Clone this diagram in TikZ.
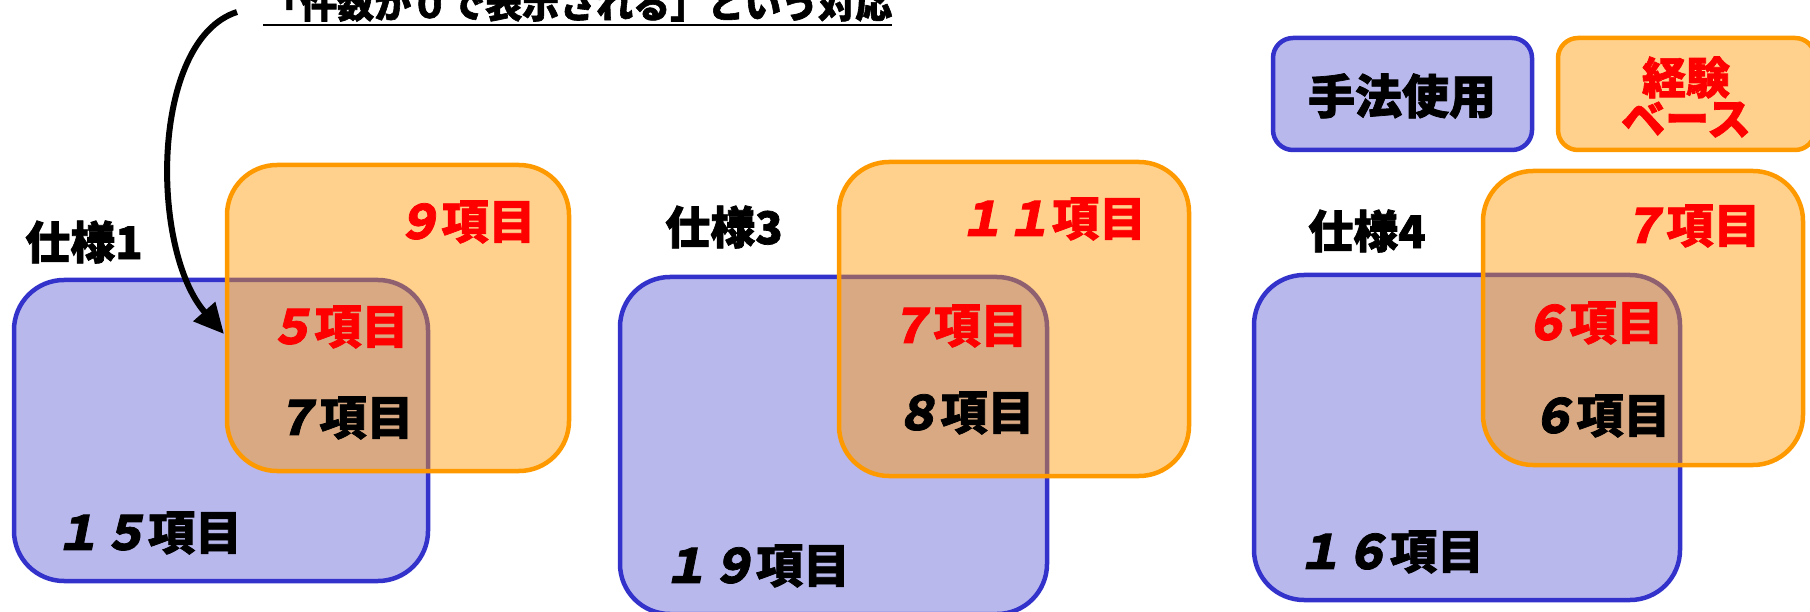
\documentclass[tikz,border=0pt]{standalone}
\usepackage{fontspec}
\usetikzlibrary{arrows.meta}
\newfontfamily\jp{Noto Sans CJK JP}[BoldFeatures={FakeBold=1.6}]
\newfontfamily\jpsl{Noto Sans CJK JP}[FakeSlant=0.2, BoldFeatures={FakeBold=1.6}]
\definecolor{bluec}{HTML}{3333CC}
\definecolor{orc}{HTML}{FF9900}
\definecolor{redc}{HTML}{FF0000}
\begin{document}
\begin{tikzpicture}[x=1pt,y=-1pt,
  bluebox/.style={draw=bluec, line width=4.5pt, fill=bluec, fill opacity=0.35, rounded corners=50pt, inner sep=0pt},
  orbox/.style={draw=orc, line width=4.5pt, fill=orc, fill opacity=0.45, rounded corners=50pt, inner sep=0pt},
  lbl/.style={font=\jp\bfseries\fontsize{47}{47}\selectfont, inner sep=0pt},
  spec/.style={font=\jp\bfseries\fontsize{45}{45}\selectfont, inner sep=0pt},
  redt/.style={lbl, text=redc},
]
\useasboundingbox (0,0) rectangle (1810,612);
\clip (0,0) rectangle (1810,612);
% spec 1
\node[bluebox, minimum width=414pt, minimum height=301pt] (b1) at (221,430.5) {};
\node[orbox, minimum width=342pt, minimum height=306pt] (o1) at (398,318) {};
\node[spec] (s1) at (84,242) {仕様1};
\node[redt] (o1t) at (465,222) {{\jpsl\bfseries ９}項目};
\node[redt] (i1r) at (338,327) {{\jpsl\bfseries ５}項目};
\node[lbl] (i1b) at (343,418) {{\jpsl\bfseries ７}項目};
\node[lbl] (b1t) at (148,533) {{\jpsl\bfseries １５}項目};
% spec 3
\node[bluebox, minimum width=427pt, minimum height=337pt] (b3) at (833.5,445.5) {};
\node[orbox, minimum width=350pt, minimum height=314pt] (o3) at (1014,319) {};
\node[spec] (s3) at (724,227) {仕様3};
\node[redt] (o3t) at (1052,219) {{\jpsl\bfseries １１}項目};
\node[redt] (i3r) at (957,326) {{\jpsl\bfseries ７}項目};
\node[lbl] (i3b) at (964,413) {{\jpsl\bfseries ８}項目};
\node[lbl] (b3t) at (756,566) {{\jpsl\bfseries １９}項目};
% spec 4
\node[bluebox, minimum width=426pt, minimum height=325pt] (b4) at (1467,437.5) {};
\node[orbox, minimum width=320pt, minimum height=294pt] (o4) at (1643,318) {};
\node[spec] (s4) at (1367,231) {仕様4};
\node[redt] (o4t) at (1690,226) {{\jpsl\bfseries ７}項目};
\node[redt] (i4r) at (1593,323) {{\jpsl\bfseries ６}項目};
\node[lbl] (i4b) at (1600,416) {{\jpsl\bfseries ６}項目};
\node[lbl] (b4t) at (1390,552) {{\jpsl\bfseries １６}項目};
% legend
\node[bluebox, rounded corners=20pt, minimum width=259pt, minimum height=112pt] (lg1) at (1402.5,94) {};
\node[orbox, rounded corners=20pt, minimum width=257pt, minimum height=112pt] (lg2) at (1686.5,94) {};
\node[lbl] (lg1t) at (1402,96) {手法使用};
\node[redt, align=center, font=\jp\bfseries\fontsize{44}{41}\selectfont] (lg2t) at (1686,97) {経験\\ベース};
% top note and arrow
\node[anchor=base west, font=\jp\bfseries\fontsize{37}{37}\selectfont, inner sep=0pt] (top) at (263,18) {「件数が０で表示される」という対応};
\draw[line width=2.5pt] ([yshift=-7pt]top.base west) -- ([yshift=-7pt]top.base east);
\coordinate (astart) at (237,12);
\coordinate (tip) at (224,334);
\draw[line width=6pt, -{Triangle[length=30pt,width=28pt]}] (astart) .. controls (150,40) and (150,250) .. (tip);
\end{tikzpicture}
\end{document}
